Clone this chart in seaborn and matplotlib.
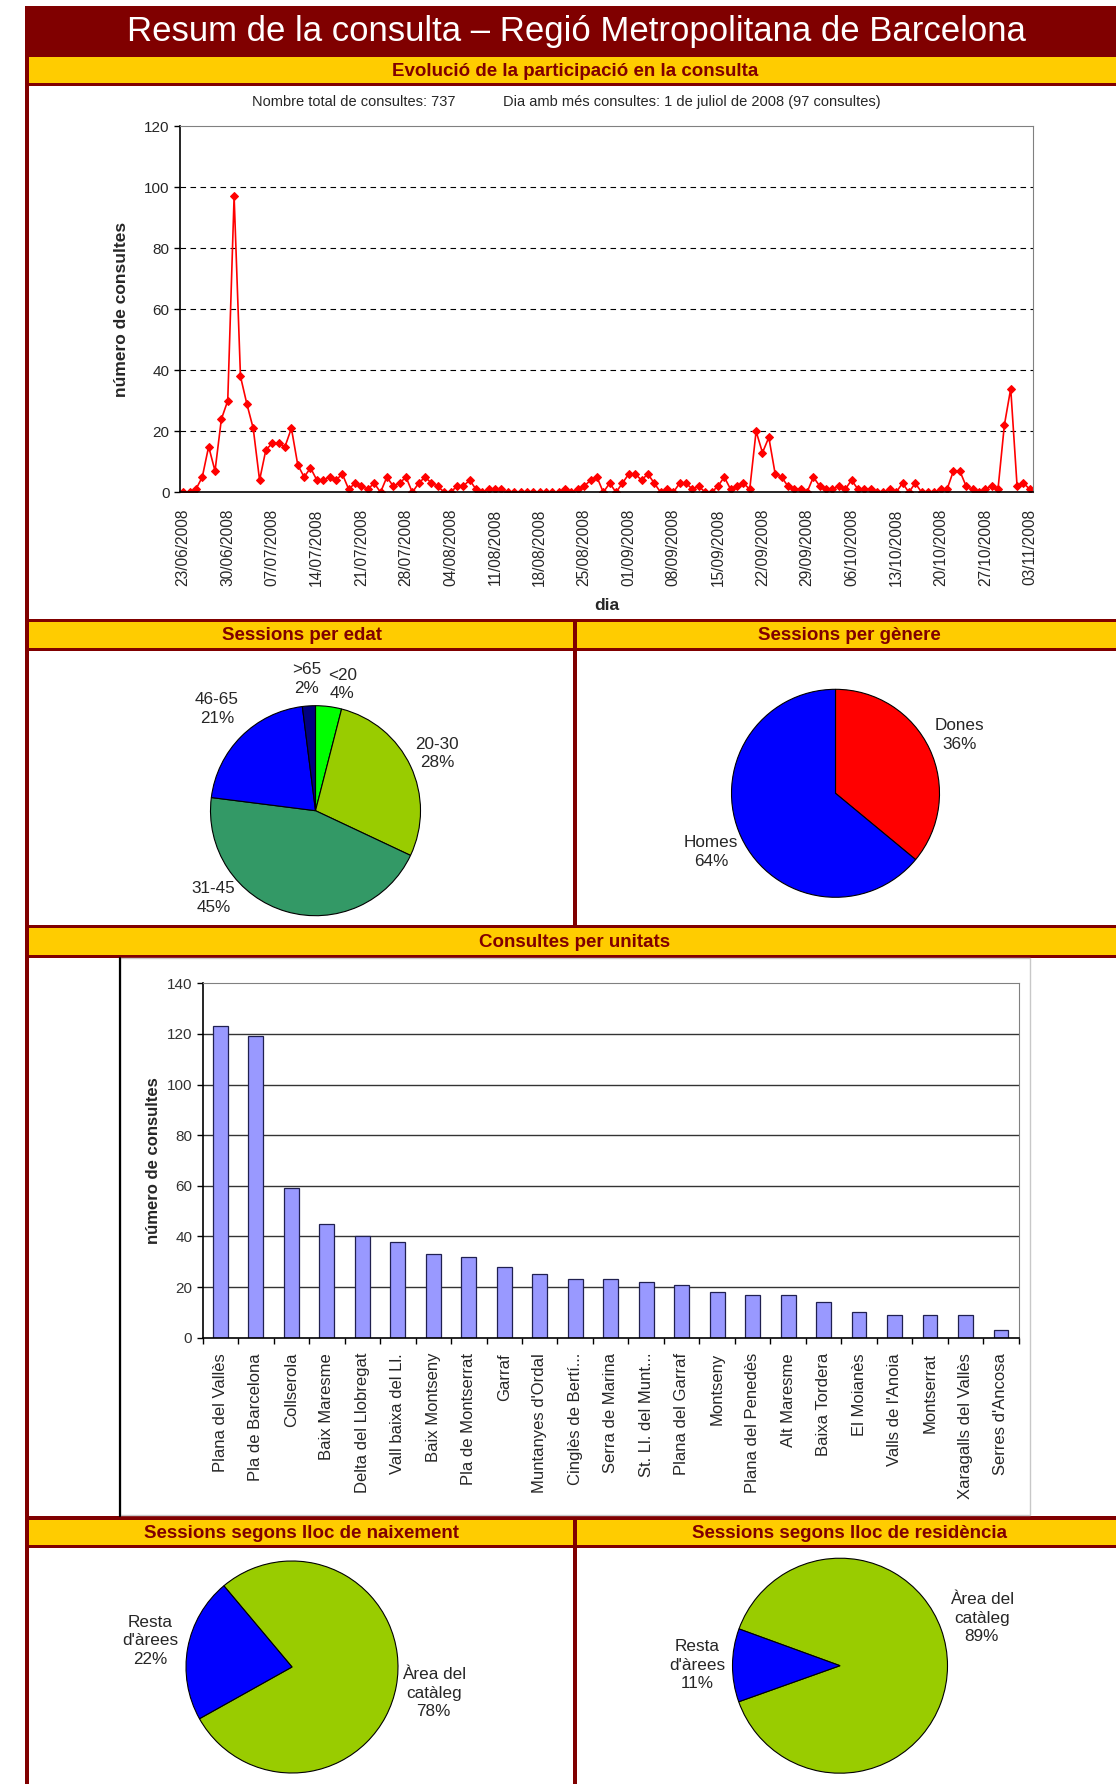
import matplotlib
matplotlib.use("Agg")
import matplotlib.pyplot as plt
import matplotlib.dates as mdates
from matplotlib.patches import Rectangle
from matplotlib import font_manager
import numpy as np
import pandas as pd
import seaborn as sns

# ── Data ──────────────────────────────────────────────────────────────────────

START_DAY = "2008-06-23"
DAILY_CONSULTES = [
    0, 0, 1, 5, 15, 7, 24, 30, 97, 38, 29, 21, 4, 14, 16, 16, 15, 21, 9, 5,
    8, 4, 4, 5, 4, 6, 1, 3, 2, 1, 3, 0, 5, 2, 3, 5, 0, 3, 5, 3,
    2, 0, 0, 2, 2, 4, 1, 0, 1, 1, 1, 0, 0, 0, 0, 0, 0, 0, 0, 0,
    1, 0, 1, 2, 4, 5, 0, 3, 0, 3, 6, 6, 4, 6, 3, 0, 1, 0, 3, 3,
    1, 2, 0, 0, 2, 5, 1, 2, 3, 1, 20, 13, 18, 6, 5, 2, 1, 1, 0, 5,
    2, 1, 1, 2, 1, 4, 1, 1, 1, 0, 0, 1, 0, 3, 0, 3, 0, 0, 0, 1,
    1, 7, 7, 2, 1, 0, 1, 2, 1, 22, 34, 2, 3, 1,
]

UNITATS = [
    "Plana del Vallès", "Pla de Barcelona", "Collserola", "Baix Maresme",
    "Delta del Llobregat", "Vall baixa del Ll.", "Baix Montseny",
    "Pla de Montserrat", "Garraf", "Muntanyes d'Ordal", "Cinglès de Bertí...",
    "Serra de Marina", "St. Ll. del Munt...", "Plana del Garraf", "Montseny",
    "Plana del Penedès", "Alt Maresme", "Baixa Tordera", "El Moianès",
    "Valls de l'Anoia", "Montserrat", "Xaragalls del Vallès", "Serres d'Ancosa",
]
CONSULTES_UNITAT = [123, 119, 59, 45, 40, 38, 33, 32, 28, 25, 23, 23, 22, 21,
                    18, 17, 17, 14, 10, 9, 9, 9, 3]

EDAT_LABELS = ["<20", "20-30", "31-45", "46-65", ">65"]
EDAT_PCT = [4, 28, 45, 21, 2]
GENERE_LABELS = ["Dones", "Homes"]
GENERE_PCT = [36, 64]
LLOC_LABELS = ["Àrea del\ncatàleg", "Resta\nd'àrees"]
NAIXEMENT_PCT = [78, 22]
RESIDENCIA_PCT = [89, 11]

# ── Style ─────────────────────────────────────────────────────────────────────

W, H = 1116, 1784
DARK_RED = "#800000"
YELLOW = "#FFCC00"

sns.set_style("white")
plt.rcParams["font.family"] = ["Liberation Sans", "DejaVu Sans"]
_names = {f.name for f in font_manager.fontManager.ttflist}
HEAD_FONT = "Liberation Sans Narrow" if "Liberation Sans Narrow" in _names else "Liberation Sans"

fig = plt.figure(figsize=(W / 100, H / 100), dpi=100)


def px_rect(x0, y0, x1, y1):
    return [x0 / W, 1 - y1 / H, (x1 - x0) / W, (y1 - y0) / H]


# ── Frame / bands ─────────────────────────────────────────────────────────────

bg = fig.add_axes([0, 0, 1, 1])
bg.set_xlim(0, W)
bg.set_ylim(H, 0)
bg.axis("off")


def box(x0, y0, x1, y1, color, **kw):
    bg.add_patch(Rectangle((x0, y0), x1 - x0, y1 - y0, facecolor=color,
                           edgecolor="none", **kw))


# title
box(25, 6, W, 57, DARK_RED)
bg.text(576, 31, "Resum de la consulta – Regió Metropolitana de Barcelona",
        color="white", fontsize=25, ha="center", va="center")

# left border + horizontal rules
box(25, 6, 29, H, DARK_RED)
for y0, y1 in [(83, 86), (619, 622), (648, 651), (925, 928), (955, 958),
               (1516, 1520), (1545, 1548)]:
    box(25, y0, W, y1, DARK_RED)
# middle dividers
box(573, 619, 577, 928, DARK_RED)
box(573, 1516, 577, H, DARK_RED)

# yellow section headers
HEADERS = [
    (29, W, 57, 83, "Evolució de la participació en la consulta"),
    (29, 573, 622, 648, "Sessions per edat"),
    (577, W, 622, 648, "Sessions per gènere"),
    (29, W, 928, 955, "Consultes per unitats"),
    (29, 573, 1520, 1545, "Sessions segons lloc de naixement"),
    (577, W, 1520, 1545, "Sessions segons lloc de residència"),
]
HEADER_CX = [575, 302, 849, 575, 302, 849]
for (x0, x1, y0, y1, txt), cx in zip(HEADERS, HEADER_CX):
    box(x0, y0, x1, y1, YELLOW)
    bg.text(cx, (y0 + y1) / 2 + 1, txt, color=DARK_RED, fontsize=13.5,
            fontweight="bold", family=HEAD_FONT, ha="center", va="center")

bg.text(354, 102, "Nombre total de consultes: 737", fontsize=10.5,
        ha="center", va="center")
bg.text(692, 102, "Dia amb més consultes: 1 de juliol de 2008 (97 consultes)",
        fontsize=10.5, ha="center", va="center")

# bar chart area box
bg.add_patch(Rectangle((120, 958), 1030 - 120, 1515 - 958, facecolor="white",
                       edgecolor="#C8C8C8", lw=1))
bg.plot([120, 120], [958, 1516], color="black", lw=1.6)

# ── 1. Daily evolution ────────────────────────────────────────────────────────

days = pd.date_range(START_DAY, periods=len(DAILY_CONSULTES), freq="D")
df_days = pd.DataFrame({"dia": days, "consultes": DAILY_CONSULTES})

ax = fig.add_axes(px_rect(180, 126.3, 1033, 492.3))
sns.lineplot(data=df_days, x="dia", y="consultes", color="#FF0000",
             linewidth=1.2, marker="D", markersize=4,
             markeredgecolor="#FF0000", ax=ax)
half = pd.Timedelta(hours=12)
ax.set_xlim(days[0] - half, days[-1] + half)
ax.set_ylim(0, 120)
ax.set_yticks(range(0, 121, 20))
label_days = days[::7]
ax.set_xticks(label_days)
ax.set_xticks(label_days - half, minor=True)
ax.xaxis.set_major_formatter(mdates.DateFormatter("%d/%m/%Y"))
ax.tick_params(axis="x", which="major", length=0, labelsize=11.2,
               labelrotation=90, pad=12)
ax.tick_params(axis="x", which="minor", length=4, width=1, color="black",
               direction="out")
ax.tick_params(axis="y", length=4, width=1, color="black", direction="out",
               labelsize=11, left=True)
ax.yaxis.grid(True, color="black", linestyle=(0, (5, 4)), linewidth=0.8)
gl = ax.get_ygridlines()
gl[0].set_visible(False)
gl[-1].set_visible(False)
for side in ["top", "right"]:
    ax.spines[side].set_color("#808080")
for side in ["left", "bottom"]:
    ax.spines[side].set_color("black")
    ax.spines[side].set_linewidth(1.2)
ax.set_xlabel("dia", fontsize=12.5, fontweight="bold")
ax.set_ylabel("número de consultes", fontsize=12.5, fontweight="bold")
ax.xaxis.set_label_coords(0.5, -(598 - 492.3) / 366)
ax.yaxis.set_label_coords((129 - 180) / 853, 0.5)

# ── 2-3. Pies ─────────────────────────────────────────────────────────────────


def pie(cx, cy, r, values, labels, colors, start, dist, overrides=None):
    k = 1.7
    pax = fig.add_axes(px_rect(cx - k * r, cy - k * r, cx + k * r, cy + k * r))
    _, texts = pax.pie(
        values, labels=[f"{l}\n{v}%" for l, v in zip(labels, values)],
        colors=colors, startangle=start, counterclock=False,
        labeldistance=dist,
        wedgeprops=dict(edgecolor="black", linewidth=0.8),
        textprops=dict(fontsize=12.3),
    )
    pax.set_xlim(-k, k)
    pax.set_ylim(-k, k)
    pax.set_aspect("equal")
    for t in texts:
        t.set_ha("center")
        t.set_va("center")
        t.set_linespacing(1.3)
    for i, (ang, d) in (overrides or {}).items():
        a = np.radians(ang)
        texts[i].set_position((d * np.cos(a), d * np.sin(a)))


pie(315.5, 810.7, 105, EDAT_PCT, EDAT_LABELS,
    ["#00FF00", "#99CC00", "#339966", "#0000FF", "#000080"], 90, 1.28,
    overrides={2: (220.6, 1.28), 0: (78, 1.23), 4: (94, 1.26),
               3: (134, 1.35)})
pie(835.5, 793.3, 104, GENERE_PCT, GENERE_LABELS, ["#FF0000", "#0000FF"],
    90, 1.32)

# ── 4. Consultes per unitats ──────────────────────────────────────────────────

ax2 = fig.add_axes(px_rect(202.7, 983.3, 1018.7, 1337.7))
sns.barplot(x=UNITATS, y=CONSULTES_UNITAT, color="#9999FF", saturation=1,
            edgecolor="#202050", linewidth=0.9, width=0.42, ax=ax2)
ax2.set_xlim(-0.5, len(UNITATS) - 0.5)
ax2.set_ylim(0, 140)
ax2.set_yticks(range(0, 141, 20))
ax2.set_xticks(np.arange(len(UNITATS) + 1) - 0.5, minor=True)
ax2.tick_params(axis="x", which="major", length=0, labelsize=12,
                labelrotation=90, pad=11)
ax2.tick_params(axis="x", which="minor", length=4, width=1, color="black",
                direction="out", bottom=True)
ax2.tick_params(axis="y", length=4, width=1, color="black", direction="out",
                labelsize=11, labelcolor="#333333", left=True)
ax2.yaxis.grid(True, color="#333333", linewidth=1)
ax2.set_axisbelow(True)
gl = ax2.get_ygridlines()
gl[0].set_visible(False)
gl[-1].set_visible(False)
for side in ["top", "right"]:
    ax2.spines[side].set_color("#808080")
for side in ["left", "bottom"]:
    ax2.spines[side].set_color("black")
    ax2.spines[side].set_linewidth(1.2)
ax2.set_ylabel("número de consultes", fontsize=12, fontweight="bold")
ax2.yaxis.set_label_coords((161 - 202.7) / 816, 0.5)

# ── 5-6. Lloc de naixement / residència ───────────────────────────────────────

pie(292, 1667, 106, NAIXEMENT_PCT, LLOC_LABELS, ["#99CC00", "#0000FF"],
    130, 1.36)
pie(840, 1665.7, 107.5, RESIDENCIA_PCT, LLOC_LABELS, ["#99CC00", "#0000FF"],
    160, 1.33, overrides={0: (18.6, 1.39)})

fig.savefig("out.png", dpi=100)
